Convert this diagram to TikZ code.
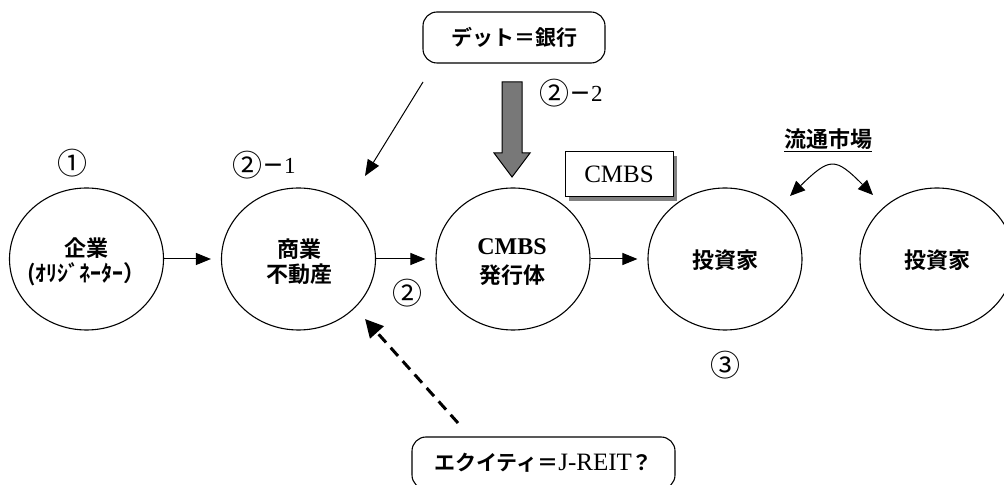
\documentclass[tikz,border=0pt]{standalone}
\usepackage{fontspec}
\setmainfont{Liberation Serif}
\newfontfamily\jp{Noto Sans CJK JP}[BoldFont={Noto Sans CJK JP Bold}]
\usetikzlibrary{shapes.geometric,arrows.meta,shadows}
\newcommand{\circnum}[1]{{\jp\fontsize{30bp}{30bp}\selectfont #1}}
\newcommand{\subnum}[1]{\raisebox{3bp}{\jp\bfseries\fontsize{22bp}{24bp}\selectfont －}\raisebox{3bp}{\rmfamily\fontsize{23bp}{24bp}\selectfont #1}}
\begin{document}
\begin{tikzpicture}[x=1bp,y=-1bp,
  ell/.style={draw,line width=1.1bp,ellipse,minimum width=154bp,minimum height=142bp,inner sep=0pt},
  etext/.style={inner sep=0pt,align=center,font=\jp\bfseries\fontsize{22bp}{25bp}\selectfont},
  arr/.style={line width=1bp,-{Triangle[length=15bp,width=12bp]},shorten >=10bp},
  rbox/.style={draw,line width=1.1bp,rounded corners=14bp,inner sep=0pt,font=\jp\bfseries\fontsize{21bp}{24bp}\selectfont},
  lab/.style={font=\jp\fontsize{22bp}{24bp}\selectfont,inner sep=0pt}]
\useasboundingbox (0,0) rectangle (1004,485);
% ellipses
\node[ell] (e1) at (86.5,259) {};
\node[etext] at (86.5,262) {企業\\(ｵﾘｼﾞﾈｰﾀｰ）};
\node[ell] (e2) at (298.5,259) {};
\node[etext] at (299,262) {商業\\不動産};
\node[ell] (e3) at (513,259) {};
\node[etext,font=\jp\bfseries\fontsize{22bp}{29bp}\selectfont] at (512,262) {{\rmfamily\fontsize{24bp}{29bp}\selectfont CMBS}\\発行体};
\node[ell] (e4) at (725,259) {};
\node[etext] at (725,260) {投資家};
\node[ell] (e5) at (937,259) {};
\node[etext] at (937,260) {投資家};
% horizontal arrows
\draw[arr] (e1.east) -- (e2.west);
\draw[arr] (e2.east) -- (e3.west);
\draw[arr] (e3.east) -- (e4.west);
% labels
\node[lab] (n1) at (72,163) {\circnum{①}};
\node[lab,anchor=west] (n21) at (232,165) {\circnum{②}\subnum{1}};
\node[lab] (n2) at (407,293) {\circnum{②}};
\node[lab] (n3) at (725,365) {\circnum{③}};
\node[lab,anchor=west] (n22) at (539,93) {\circnum{②}\subnum{2}};
% debt box
\node[rbox,minimum width=182bp,minimum height=51bp] (debt) at (514,37.5) {デット＝銀行};
% equity box
\node[rbox,minimum width=263bp,minimum height=52bp] (eq) at (543.5,463) {エクイティ＝{\rmfamily\mdseries\fontsize{25bp}{25bp}\selectfont J-REIT}？};
% thin diagonal arrow
\coordinate (d1) at (423,82);
\coordinate (d2) at (365,176);
\draw[line width=1bp,-{Triangle[length=16bp,width=13bp]}] (d1) -- (d2);
% dashed arrow
\coordinate (q1) at (458,423);
\coordinate (q2) at (365,319);
\draw[line width=3bp,dash pattern=on 11bp off 7bp,-{Triangle[length=18bp,width=18bp]}] (q1) -- (q2);
% grey block arrow
\draw[line width=1bp,fill={rgb,255:red,120;green,120;blue,120}]
  (502,82) -- (522,82) -- (522,153) -- (530,153) -- (512,177) -- (494,153) -- (502,153) -- cycle;
% CMBS box with shadow
\node[draw,fill=white,line width=1bp,minimum width=108bp,minimum height=45bp,inner sep=0pt,
  drop shadow={shadow xshift=4bp,shadow yshift=-4bp,fill={rgb,255:red,128;green,128;blue,128},opacity=1},
  font=\rmfamily\fontsize{25bp}{25bp}\selectfont] (cb) at (619,174.5) {CMBS};
% secondary market
\node[etext] (mkt) at (828,140) {\underline{流通市場}};
\coordinate (m1) at (790,196);
\coordinate (m2) at (873,195);
\draw[line width=1bp,{Triangle[length=15bp,width=13bp]}-{Triangle[length=15bp,width=13bp]}]
  (m1) .. controls (830,157) and (835,157) .. (m2);
\end{tikzpicture}
\end{document}
